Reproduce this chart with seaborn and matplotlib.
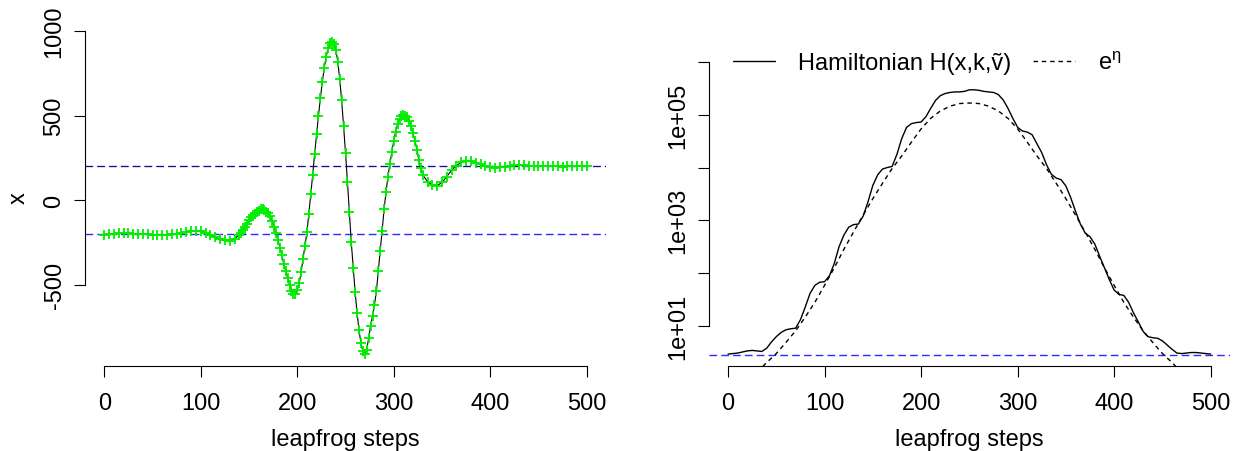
import numpy as np
import pandas as pd
import seaborn as sns
import matplotlib.pyplot as plt
from matplotlib.ticker import FixedLocator, FixedFormatter, NullLocator

# ---- left panel: position x along the leapfrog trajectory
steps_start = list(range(0, 140, 5))
x_start = [-204, -202, -200, -197, -196, -196, -198, -200, -200, -202,
           -204, -205, -205, -203, -200, -198, -193, -188, -184, -181,
           -182, -192, -205, -220, -232, -238, -240, -228]
steps_mid = list(range(140, 332, 2))
x_mid = [-205, -195, -178, -158, -138, -118, -102, -90, -80, -70,
         -61, -55, -52, -57, -67, -78, -92, -125, -160, -195,
         -235, -280, -325, -375, -420, -460, -500, -535, -557, -555,
         -530, -490, -425, -345, -270, -190, -80, 35, 150, 275,
         390, 500, 605, 700, 785, 850, 900, 930, 938, 925,
         890, 820, 717, 590, 440, 280, 110, -72, -250, -400,
         -545, -665, -770, -845, -893, -910, -885, -815, -745, -685,
         -620, -540, -420, -300, -180, -55, 50, 140, 215, 285,
         350, 405, 450, 480, 498, 503, 500, 490, 470, 440,
         395, 350, 300, 240, 190, 150]
steps_end = list(range(335, 501, 5))
x_end = [110, 90, 87, 105, 140, 178, 205, 224, 233, 232,
         223, 212, 203, 196, 192, 194, 198, 203, 207, 208,
         207, 205, 203, 202, 201, 200, 200, 200, 199, 200,
         200, 200, 200, 200]
x_levels = [200, -200]

# ---- right panel: Hamiltonian and e^eta (log10 values)
h_steps = list(range(0, 501, 5))
h_log10 = [0.47, 0.48, 0.49, 0.51, 0.53, 0.54, 0.53, 0.52, 0.58, 0.70,
           0.80, 0.88, 0.93, 0.95, 0.96, 1.12, 1.36, 1.62, 1.77, 1.83,
           1.84, 1.95, 2.18, 2.50, 2.72, 2.87, 2.92, 2.93, 3.08, 3.35,
           3.66, 3.86, 3.97, 4.00, 4.02, 4.25, 4.55, 4.76, 4.83, 4.85,
           4.86, 4.96, 5.12, 5.27, 5.36, 5.40, 5.42, 5.43, 5.43, 5.44,
           5.47, 5.47, 5.46, 5.44, 5.43, 5.42, 5.38, 5.28, 5.12, 4.93,
           4.76, 4.69, 4.67, 4.62, 4.45, 4.28, 4.05, 3.87, 3.80, 3.77,
           3.65, 3.43, 3.17, 2.93, 2.76, 2.69, 2.55, 2.32, 2.10, 1.88,
           1.68, 1.60, 1.58, 1.45, 1.25, 1.08, 0.90, 0.80, 0.78, 0.77,
           0.72, 0.64, 0.56, 0.49, 0.48, 0.49, 0.50, 0.50, 0.49, 0.48,
           0.47]
eta_steps = list(range(30, 471, 10))
e_eta_log10 = [0.12, 0.31, 0.48, 0.69, 0.91, 1.17, 1.45, 1.77, 2.10, 2.45,
               2.78, 3.10, 3.41, 3.70, 3.98, 4.22, 4.48, 4.73, 4.93, 5.07,
               5.16, 5.21, 5.22, 5.21, 5.16, 5.07, 4.93, 4.73, 4.48, 4.22,
               3.98, 3.70, 3.41, 3.10, 2.78, 2.45, 2.10, 1.77, 1.45, 1.17,
               0.91, 0.69, 0.48, 0.31, 0.12]
h_start_level = 2.9

df_x = pd.DataFrame({"step": steps_start + steps_mid + steps_end,
                     "x": x_start + x_mid + x_end})
df_h = pd.DataFrame({"step": h_steps, "H": 10 ** np.array(h_log10)})
df_eta = pd.DataFrame({"step": eta_steps, "e": 10 ** np.array(e_eta_log10)})

sns.set_theme(style="white")
plt.rcParams["font.family"] = ["Liberation Sans", "DejaVu Sans"]
plt.rcParams["mathtext.fontset"] = "custom"
plt.rcParams["mathtext.rm"] = "Liberation Sans"
plt.rcParams["mathtext.it"] = "Liberation Sans:italic"
plt.rcParams["lines.scale_dashes"] = False
plt.rcParams["axes.unicode_minus"] = False
plt.rcParams["text.color"] = "black"
plt.rcParams["axes.labelcolor"] = "black"

FS = 17
fig = plt.figure(figsize=(12.37, 4.52), dpi=100)
ax1 = fig.add_axes([85 / 1237, 1 - 367 / 452, 521 / 1237, 337 / 452])
ax2 = fig.add_axes([708.7 / 1237, 1 - 367 / 452, 521.3 / 1237, 337 / 452])

# left panel
for lv in x_levels:
    ax1.axhline(lv, color="#2b2bff", lw=1.0, dashes=(5.5, 3.0), zorder=1)
ax1.axhline(x_levels[0], color="#10105a", lw=0.6, dashes=(5.5, 3.0), zorder=1)
sns.lineplot(data=df_x, x="step", y="x", color="black", lw=0.8, ax=ax1, zorder=2)
sns.scatterplot(data=df_x, x="step", y="x", marker="+", color="#00ee00",
                s=42, linewidth=1.3, ax=ax1, zorder=3)
ax1.set_xlim(-20, 520)
ax1.set_ylim(-981, 1013)
ax1.set_xticks([0, 100, 200, 300, 400, 500])
ax1.set_yticks([-500, 0, 500, 1000])
ax1.set_xlabel("leapfrog steps", fontsize=FS, labelpad=10)
ax1.set_ylabel("x", fontsize=FS, labelpad=10)
ax1.spines["left"].set_bounds(-500, 1000)
ax1.spines["bottom"].set_bounds(0, 500)

# right panel
ax2.axhline(h_start_level, color="#2b2bff", lw=1.0, dashes=(5.5, 3.0), zorder=1)
sns.lineplot(data=df_h, x="step", y="H", color="black", lw=1.0, ax=ax2,
             label="Hamiltonian H(x,k,ṽ)")
sns.lineplot(data=df_eta, x="step", y="e", color="black", lw=1.0, ax=ax2,
             linestyle=(0, (3.2, 2.8)), label=r"e$^{\mathrm{\eta}}$")
ax2.set_yscale("log")
ax2.set_xlim(-20, 520)
ax2.set_ylim(10 ** 0.245, 10 ** 6.62)
ax2.set_xticks([0, 100, 200, 300, 400, 500])
ax2.yaxis.set_major_locator(FixedLocator([1e1, 1e2, 1e3, 1e4, 1e5, 1e6]))
ax2.yaxis.set_major_formatter(FixedFormatter(["1e+01", "", "1e+03", "", "1e+05", ""]))
ax2.yaxis.set_minor_locator(NullLocator())
ax2.set_xlabel("leapfrog steps", fontsize=FS, labelpad=10)
ax2.set_ylabel("")
ax2.spines["left"].set_bounds(1e1, 1e6)
ax2.spines["bottom"].set_bounds(0, 500)
ax2.legend(loc="upper left", bbox_to_anchor=(0.047, 0.933), ncol=2,
           frameon=False, fontsize=FS, borderpad=0, borderaxespad=0,
           handlelength=1.78, handletextpad=0.97, columnspacing=0.93,
           labelcolor="black")

for ax in (ax1, ax2):
    for side in ("top", "right"):
        ax.spines[side].set_visible(False)
    for side in ("left", "bottom"):
        ax.spines[side].set_color("black")
        ax.spines[side].set_linewidth(0.8)
    ax.tick_params(axis="both", direction="out", length=8, width=0.8,
                   color="black", labelsize=FS, labelcolor="black", left=True, bottom=True)
    ax.tick_params(axis="x", pad=11)
    ax.tick_params(axis="y", pad=6, labelrotation=90)
    plt.setp(ax.get_yticklabels(), va="center")
    ax.grid(False)

fig.savefig("out.png", dpi=100)
